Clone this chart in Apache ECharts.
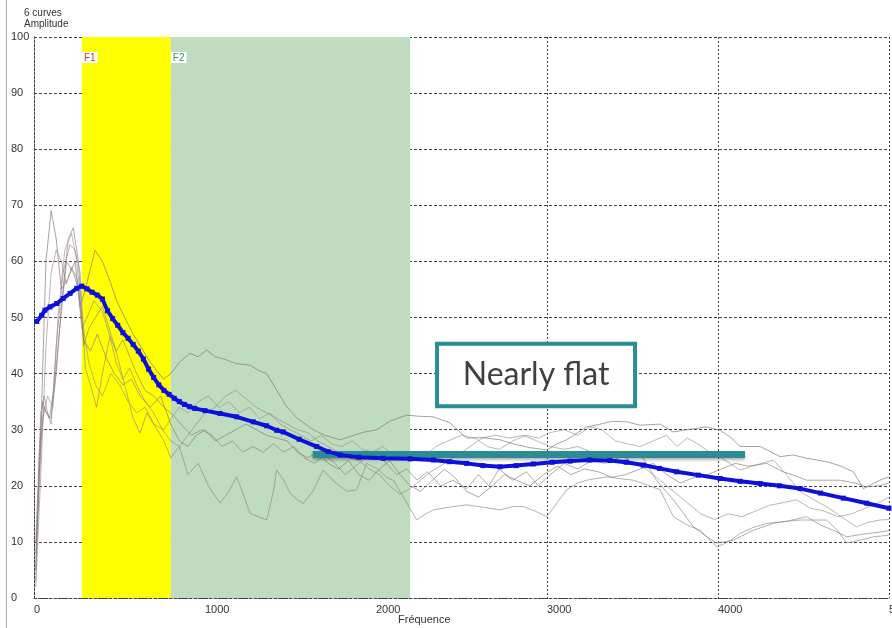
<!DOCTYPE html>
<html><head><meta charset="utf-8">
<script src="https://cdn.jsdelivr.net/npm/echarts@6/dist/echarts.min.js"></script>
<style>html,body{margin:0;padding:0;background:#fff}#c{width:892px;height:628px}</style>
</head><body><div id="c"></div>
<script>
// ---- data ----
const xMin = 0, xMax = 5000, xStep = 1000;
const yMin = 0, yMax = 100, yStep = 10;
const f1Band = [280, 800];
const f2Band = [800, 2200];
const flatLine = [[1630, 25.7], [4158, 25.7]];
const flatBox = [[2357, 45.3], [3515, 34.2]];
const flatText = 'Nearly flat';

const blueCurve = [[16,49.3],[45,50.4],[64,51.3],[94,51.9],[133,52.5],[171,53.4],[211,54.3],[250,55.2],[279,55.6],[310,55.1],[340,54.5],[370,54],[400,53.3],[430,51.2],[460,49.8],[490,48.6],[520,47.3],[550,46.3],[580,45.2],[610,44],[640,42.6],[670,40.8],[700,39.3],[730,38],[760,37],[790,36.3],[820,35.6],[850,35],[880,34.5],[910,34.1],[940,33.8],[1000,33.4],[1088,32.9],[1185,32.3],[1282,31.4],[1360,30.7],[1419,29.9],[1458,29.6],[1550,28.3],[1653,27],[1720,26.1],[1789,25.5],[1900,25.1],[2043,24.9],[2200,24.8],[2335,24.6],[2430,24.3],[2530,24],[2625,23.6],[2725,23.4],[2820,23.6],[2920,23.9],[3030,24.2],[3135,24.4],[3250,24.6],[3368,24.5],[3463,24.2],[3563,23.7],[3658,23.1],[3758,22.5],[3885,21.9],[4012,21.3],[4130,20.8],[4246,20.4],[4360,20],[4480,19.5],[4600,18.7],[4733,17.8],[4870,16.9],[5000,16]];

const curve1 = [[10,5],[40,30],[70,60],[100,69],[130,64],[160,55],[200,57],[240,60],[270,52],[300,55],[357,62],[400,60],[450,56],[483,53],[530,50],[580,47],[620,45],[680,42],[757,39],[800,40],[850,42],[912,43.6],[960,43],[1010,44.2],[1060,43],[1120,42.5],[1180,41.8],[1263,41.5],[1310,40.6],[1361,40],[1420,37],[1478,34.1],[1540,32],[1633,30],[1700,29],[1789,28.2],[1850,28.8],[1920,29.5],[2004,30],[2080,31.5],[2180,32.6],[2250,32.4],[2335,32.3],[2433,31.2],[2530,28.5],[2620,28.6],[2725,28.2],[2800,27.5],[2900,26.8],[2998,26.4],[3060,27.5],[3115,28.2],[3232,30.5],[3300,30.9],[3380,31.5],[3466,31.4],[3544,30.8],[3661,31],[3737,29.6],[3820,30],[3933,30.5],[4012,29.9],[4080,28.5],[4129,27],[4246,27],[4300,26.2],[4363,25.2],[4440,25.5],[4518,24.9],[4635,24.3],[4720,23.5],[4791,22.5],[4850,19.5],[4900,20.3],[4947,21],[5000,21.6]];

const curve2 = [[10,10],[40,33],[60,36],[80,33],[100,31],[130,45],[170,58],[210,63],[240,62],[270,58],[300,41],[330,38],[366,34],[400,40],[444,46.6],[480,44],[530,38],[580,32],[620,29.4],[660,33],[700,31],[760,28],[800,25],[850,27],[900,22],[960,24],[1020,20],[1088,16.9],[1140,19],[1185,21.6],[1230,18],[1263,15.1],[1310,14.5],[1361,13.9],[1400,19],[1419,22.8],[1460,21],[1497,18.7],[1540,17.5],[1575,16.9],[1630,19],[1692,22.8],[1730,21.5],[1770,20.4],[1830,19],[1887,19.3],[1945,24],[2010,23],[2060,21.5],[2101,21],[2160,18],[2238,13.9],[2290,15],[2335,15.7],[2430,16.2],[2530,16.6],[2620,16.2],[2725,15.7],[2800,16.3],[2860,16.3],[2930,15.5],[2998,14.5],[3060,17],[3115,19.3],[3180,20.5],[3232,21],[3349,21.6],[3420,21.3],[3505,21],[3600,20],[3661,19.3],[3739,14.5],[3820,13],[3895,12.1],[3992,9.1],[4060,10],[4129,11.5],[4200,12.5],[4285,13.3],[4380,13.6],[4480,13.9],[4560,13.9],[4635,13.9],[4700,12],[4752,9.8],[4830,10.3],[4908,10.9],[5000,11.2]];

const curve3 = [[10,3],[30,25],[50,35],[70,33],[100,32],[130,40],[160,52],[200,64],[230,66],[260,60],[290,45],[320,48],[360,50],[400,52],[440,48],[480,44],[520,46],[560,43],[600,40],[650,37],[700,36],[760,34],[800,33],[860,31],[920,29],[980,30],[1040,29],[1100,27],[1160,28],[1220,26],[1280,27],[1340,26],[1400,27.5],[1460,26],[1520,27],[1580,25],[1640,24],[1700,25.5],[1760,24],[1820,22],[1880,23.5],[1940,25],[2000,26],[2060,24],[2120,22],[2180,23],[2240,21],[2300,22.5],[2380,20],[2450,21],[2530,19.5],[2600,22],[2660,20],[2720,23],[2800,21],[2880,22.5],[2950,20],[3020,22],[3100,24],[3180,23],[3260,24.5],[3340,24],[3420,25],[3480,25.5],[3544,25.8],[3640,21],[3739,17.5],[3800,15],[3856,12.7],[3930,11],[3992,9.8],[4090,10.3],[4200,12],[4324,13.3],[4420,13.8],[4518,14.5],[4600,13],[4680,12],[4752,10.9],[4830,11.3],[4908,11.6],[5000,12]];

const curve4 = [[10,5],[30,20],[50,32],[80,36],[110,34],[140,50],[180,62],[220,65],[250,60],[280,50],[320,42],[360,38],[400,36],[450,40],[500,38],[550,35],[600,33],[650,34],[700,31],[760,30],[800,32],[850,34],[900,33],[960,35],[1020,36],[1080,34],[1140,35],[1200,33],[1260,34],[1320,32],[1380,33],[1440,31],[1500,30],[1560,29],[1620,28],[1680,29],[1740,27.5],[1800,27],[1860,28],[1920,26.5],[1980,26],[2040,27],[2100,25.5],[2160,24.5],[2220,26],[2280,25],[2350,27],[2420,28],[2500,29],[2580,28.5],[2650,27],[2720,26.5],[2800,28],[2880,29],[2950,28.5],[3020,29.5],[3100,30],[3180,29],[3250,30.5],[3320,30],[3400,28],[3470,27.5],[3544,27],[3620,28],[3700,29],[3760,27],[3820,28.5],[3880,27.5],[3950,26],[4020,25],[4129,22.8],[4200,23.5],[4324,24.6],[4400,22],[4480,19],[4560,17.5],[4635,16.3],[4720,14.5],[4810,12.7],[4880,13.5],[4947,13.9],[5000,14]];

const curve5 = [[10,8],[40,28],[60,34],[90,32],[120,38],[150,48],[190,60],[230,58],[260,55],[290,46],[330,44],[370,47],[420,43],[470,40],[520,38],[570,39],[620,36],[680,34],[740,36],[800,31],[850,28],[900,27],[950,29],[1000,30],[1060,28],[1120,29],[1180,30],[1240,31],[1300,30],[1360,29],[1420,28.5],[1480,28],[1540,26],[1600,25],[1660,26],[1720,24],[1780,23],[1840,24.5],[1900,22],[1960,21],[2020,23],[2080,24.5],[2140,22],[2200,20],[2260,19],[2330,21],[2400,23],[2460,21.5],[2530,19],[2600,18],[2680,20],[2750,22],[2820,21],[2900,20],[2980,22],[3060,23.5],[3140,22],[3220,23],[3300,22.5],[3380,21.5],[3460,22],[3544,23],[3620,24],[3700,22],[3780,20.5],[3860,21.5],[3940,22],[4020,23],[4100,24],[4180,23.5],[4285,24],[4380,22.5],[4450,21.8],[4518,21],[4600,21],[4713,21],[4800,20.5],[4869,19.8],[4940,20],[5000,20.5]];

const curve6 = [[10,2],[40,22],[70,45],[100,58],[130,62],[160,60],[190,56],[220,59],[250,57],[280,48],[310,50],[350,53],[400,51],[440,47],[480,42],[520,39],[560,41],[600,38],[650,35],[700,33],[750,30],[800,28],[850,27],[900,29],[950,31],[1000,33],[1060,34],[1120,36],[1180,37],[1240,35.5],[1300,34],[1360,33],[1420,32],[1480,31],[1540,30],[1600,29.5],[1660,28],[1720,27],[1780,26],[1840,25],[1900,24.5],[1960,23],[2020,22],[2080,20],[2140,18.5],[2200,19.5],[2260,21],[2320,22.5],[2400,24],[2480,25.5],[2550,27],[2620,28.5],[2700,29],[2780,28.5],[2860,29],[2940,28],[3020,27],[3100,26.5],[3180,27],[3260,26],[3340,25.5],[3420,26],[3500,24],[3580,23],[3660,21],[3740,19],[3820,17],[3900,15],[3980,14],[4060,15],[4140,14.5],[4220,15.5],[4300,16.5],[4380,17],[4460,17.5],[4540,16],[4620,15.5],[4700,14.5],[4780,15],[4860,16],[4940,17],[5000,18]];

const grayCurves = [curve1, curve2, curve3, curve4, curve5, curve6];

// ---- chart ----
const chart = echarts.init(document.getElementById('c'), null, {renderer: 'canvas'});
const FONT = "'Liberation Sans Narrow', 'Liberation Sans', sans-serif";
const TEAL = '#2b8c94';
const grayColors = ['rgba(140,120,120,0.7)','rgba(150,130,130,0.65)','rgba(140,125,125,0.65)','rgba(150,135,135,0.6)','rgba(135,120,120,0.65)','rgba(145,130,130,0.6)'];

const series = [];
series.push({
  type: 'line', data: [], z: -1, silent: true,
  markArea: {
    silent: true,
    data: [
      [{xAxis: f1Band[0], yAxis: yMax, itemStyle: {color: '#ffff00'},
        label: {show: true, formatter: 'F1', position: 'insideTopLeft', distance: 0, offset: [0, 15],
                color: '#d0304f', backgroundColor: '#fff', padding: [1, 2, 0, 2], fontSize: 10, fontFamily: FONT}},
       {xAxis: f1Band[1], yAxis: yMin}],
      [{xAxis: f2Band[0], yAxis: yMax, itemStyle: {color: '#bfdcbf'},
        label: {show: true, formatter: 'F2', position: 'insideTopLeft', distance: 0, offset: [0, 15],
                color: '#3f9070', backgroundColor: '#fff', padding: [1, 2, 0, 2], fontSize: 10, fontFamily: FONT}},
       {xAxis: f2Band[1], yAxis: yMin}]
    ]
  }
});
grayCurves.forEach((c, i) => series.push({
  type: 'line', data: c, showSymbol: false, z: 3, silent: true,
  lineStyle: {width: 1, color: grayColors[i]}
}));
series.push({
  type: 'line', data: blueCurve, z: 5, silent: true,
  symbol: 'rect', symbolSize: 5, showAllSymbol: true,
  itemStyle: {color: '#0c10d8'},
  lineStyle: {width: 4, color: '#0c10d8'}
});
series.push({
  type: 'line', data: [], z: 10, silent: true,
  markLine: {
    silent: true, symbol: 'none',
    lineStyle: {type: 'solid', color: TEAL, width: 7, cap: 'butt', shadowColor: 'rgba(0,0,0,0.3)', shadowBlur: 3, shadowOffsetY: 2},
    label: {show: false},
    data: [[{coord: flatLine[0]}, {coord: flatLine[1]}]]
  },
  markArea: {
    silent: true,
    itemStyle: {color: '#fff', borderColor: TEAL, borderWidth: 4},
    label: {show: true, position: 'inside', formatter: flatText, color: '#404040', fontSize: 32, fontFamily: 'Lato, sans-serif'},
    data: [[{coord: flatBox[0]}, {coord: flatBox[1]}]]
  }
});

chart.setOption({
  animation: false,
  backgroundColor: '#fff',
  grid: {left: 34, right: 3, top: 37, bottom: 30, containLabel: false, outerBoundsMode: 'none'},
  xAxis: {
    type: 'value', min: xMin, max: xMax, interval: xStep,
    axisLine: {show: true, lineStyle: {color: '#444', type: [2, 2], width: 1}},
    axisTick: {show: false},
    axisLabel: {align: 'left', margin: 6, color: '#333', fontSize: 11, fontFamily: FONT, formatter: v => String(v)},
    splitLine: {show: true, lineStyle: {color: '#444', type: [2, 2], width: 1}}
  },
  yAxis: {
    type: 'value', min: yMin, max: yMax, interval: yStep,
    axisLine: {show: true, lineStyle: {color: '#444', type: [2, 2], width: 1}},
    axisTick: {show: false},
    axisLabel: {align: 'left', margin: 23, color: '#333', fontSize: 11, fontFamily: FONT, formatter: v => String(v)},
    splitLine: {show: true, lineStyle: {color: '#444', type: [3, 2], width: 1}}
  },
  graphic: [
    {type: 'line', shape: {x1: 6.5, y1: 0, x2: 6.5, y2: 628}, style: {stroke: '#b0b0b0', lineWidth: 1}},
    {type: 'text', left: 24, top: 8, style: {text: '6 curves', fill: '#333', font: "10px " + FONT}},
    {type: 'text', left: 24, top: 19, style: {text: 'Amplitude', fill: '#333', font: "10px " + FONT}},
    {type: 'text', left: 398, top: 614, style: {text: 'Fréquence', fill: '#333', font: "11px " + FONT}}
  ],
  series: series
});
</script>
</body></html>
